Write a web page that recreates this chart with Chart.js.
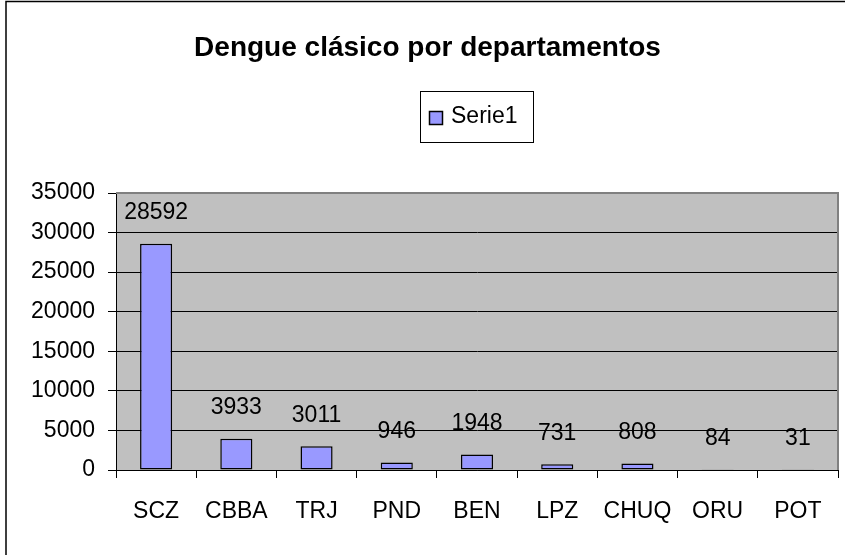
<!DOCTYPE html>
<html>
<head>
<meta charset="utf-8">
<script src="https://cdn.jsdelivr.net/npm/chart.js@4/dist/chart.umd.min.js"></script>
<style>
  html, body { margin: 0; padding: 0; background: #fff; }
  #wrap { width: 845px; height: 555px; }
</style>
</head>
<body>
<div id="wrap"><canvas id="dengueChart" width="845" height="555"></canvas></div>
<script>
// ===== DATA =====
const departamentos = ['SCZ', 'CBBA', 'TRJ', 'PND', 'BEN', 'LPZ', 'CHUQ', 'ORU', 'POT'];
const casos = [28592, 3933, 3011, 946, 1948, 731, 808, 84, 31];
const serieNombre = 'Serie1';
const tituloTexto = 'Dengue clásico por departamentos';

const FONT = 'Arial, "Liberation Sans", sans-serif';
const barColor = '#9999FF';

// background, outer frame, plot area fill
const excelFrame = {
    id: 'excelFrame',
    beforeDraw(chart) {
        const { ctx, chartArea: a } = chart;
        ctx.save();
        ctx.fillStyle = '#fff';
        ctx.fillRect(0, 0, chart.width, chart.height);
        ctx.strokeStyle = '#000';
        ctx.lineWidth = 1.5;
        ctx.beginPath();
        ctx.moveTo(6, chart.height + 5);
        ctx.lineTo(6, 1.5);
        ctx.lineTo(chart.width + 5, 1.5);
        ctx.stroke();
        ctx.fillStyle = '#C0C0C0';
        ctx.fillRect(a.left, a.top, a.right - a.left, a.bottom - a.top);
        ctx.restore();
    },
    afterDraw(chart) {
        const { ctx, chartArea: a } = chart;
        ctx.save();
        // grey border on top and right of plot area
        ctx.strokeStyle = '#808080';
        ctx.lineWidth = 2;
        ctx.beginPath();
        ctx.moveTo(a.left, a.top);
        ctx.lineTo(a.right, a.top);
        ctx.lineTo(a.right, a.bottom);
        ctx.stroke();

        // legend box
        const ds = chart.data.datasets[0];
        ctx.strokeStyle = '#000';
        ctx.lineWidth = 1;
        ctx.fillStyle = '#fff';
        ctx.fillRect(420.5, 91.5, 113, 51);
        ctx.strokeRect(420.5, 91.5, 113, 51);
        ctx.fillStyle = ds.backgroundColor;
        ctx.fillRect(429.5, 111.5, 13, 13);
        ctx.lineWidth = 1.5;
        ctx.strokeRect(429.5, 111.5, 13, 13);
        ctx.fillStyle = '#000';
        ctx.font = '23px ' + FONT;
        ctx.textAlign = 'left';
        ctx.textBaseline = 'middle';
        ctx.fillText(ds.label, 451, 117);
        ctx.restore();
    }
};

// value labels above each bar
const valueLabels = {
    id: 'valueLabels',
    afterDatasetsDraw(chart) {
        const { ctx } = chart;
        const meta = chart.getDatasetMeta(0);
        ctx.save();
        ctx.fillStyle = '#000';
        ctx.font = '23px ' + FONT;
        ctx.textAlign = 'center';
        ctx.textBaseline = 'middle';
        meta.data.forEach((bar, i) => {
            ctx.fillText(String(chart.data.datasets[0].data[i]), bar.x, bar.y - 31);
        });
        ctx.restore();
    }
};

const ctx = document.getElementById('dengueChart').getContext('2d');
new Chart(ctx, {
    type: 'bar',
    data: {
        labels: departamentos,
        datasets: [{
            label: serieNombre,
            data: casos,
            backgroundColor: barColor,
            borderColor: '#000',
            borderWidth: 1.5,
            borderSkipped: false,
            barPercentage: 0.4,
            categoryPercentage: 1.0,
        }]
    },
    options: {
        responsive: false,
        animation: false,
        layout: { padding: { left: 17, right: 7, top: 0, bottom: 0 } },
        plugins: {
            legend: { display: false },
            tooltip: { enabled: false },
            title: {
                display: true,
                text: tituloTexto,
                color: '#000',
                font: { family: FONT, size: 28, weight: 'bold' },
                padding: { top: 31, bottom: 128.4 },
            },
        },
        scales: {
            y: {
                min: 0,
                max: 35000,
                ticks: {
                    stepSize: 5000, color: '#000', font: { family: FONT, size: 23 }, padding: 13,
                    callback: v => String(v),
                },
                grid: { color: '#000', lineWidth: 1, tickLength: 8 },
                border: { color: '#000', width: 1 },
                afterFit(scale) { scale.width = 99; },
            },
            x: {
                ticks: { color: '#000', font: { family: FONT, size: 23 }, padding: 20, maxRotation: 0 },
                grid: { color: '#000', drawOnChartArea: false, tickLength: 8, offset: true },
                border: { color: '#000', width: 1 },
                afterFit(scale) { scale.height = 85; },
            }
        }
    },
    plugins: [excelFrame, valueLabels]
});
</script>
</body>
</html>
